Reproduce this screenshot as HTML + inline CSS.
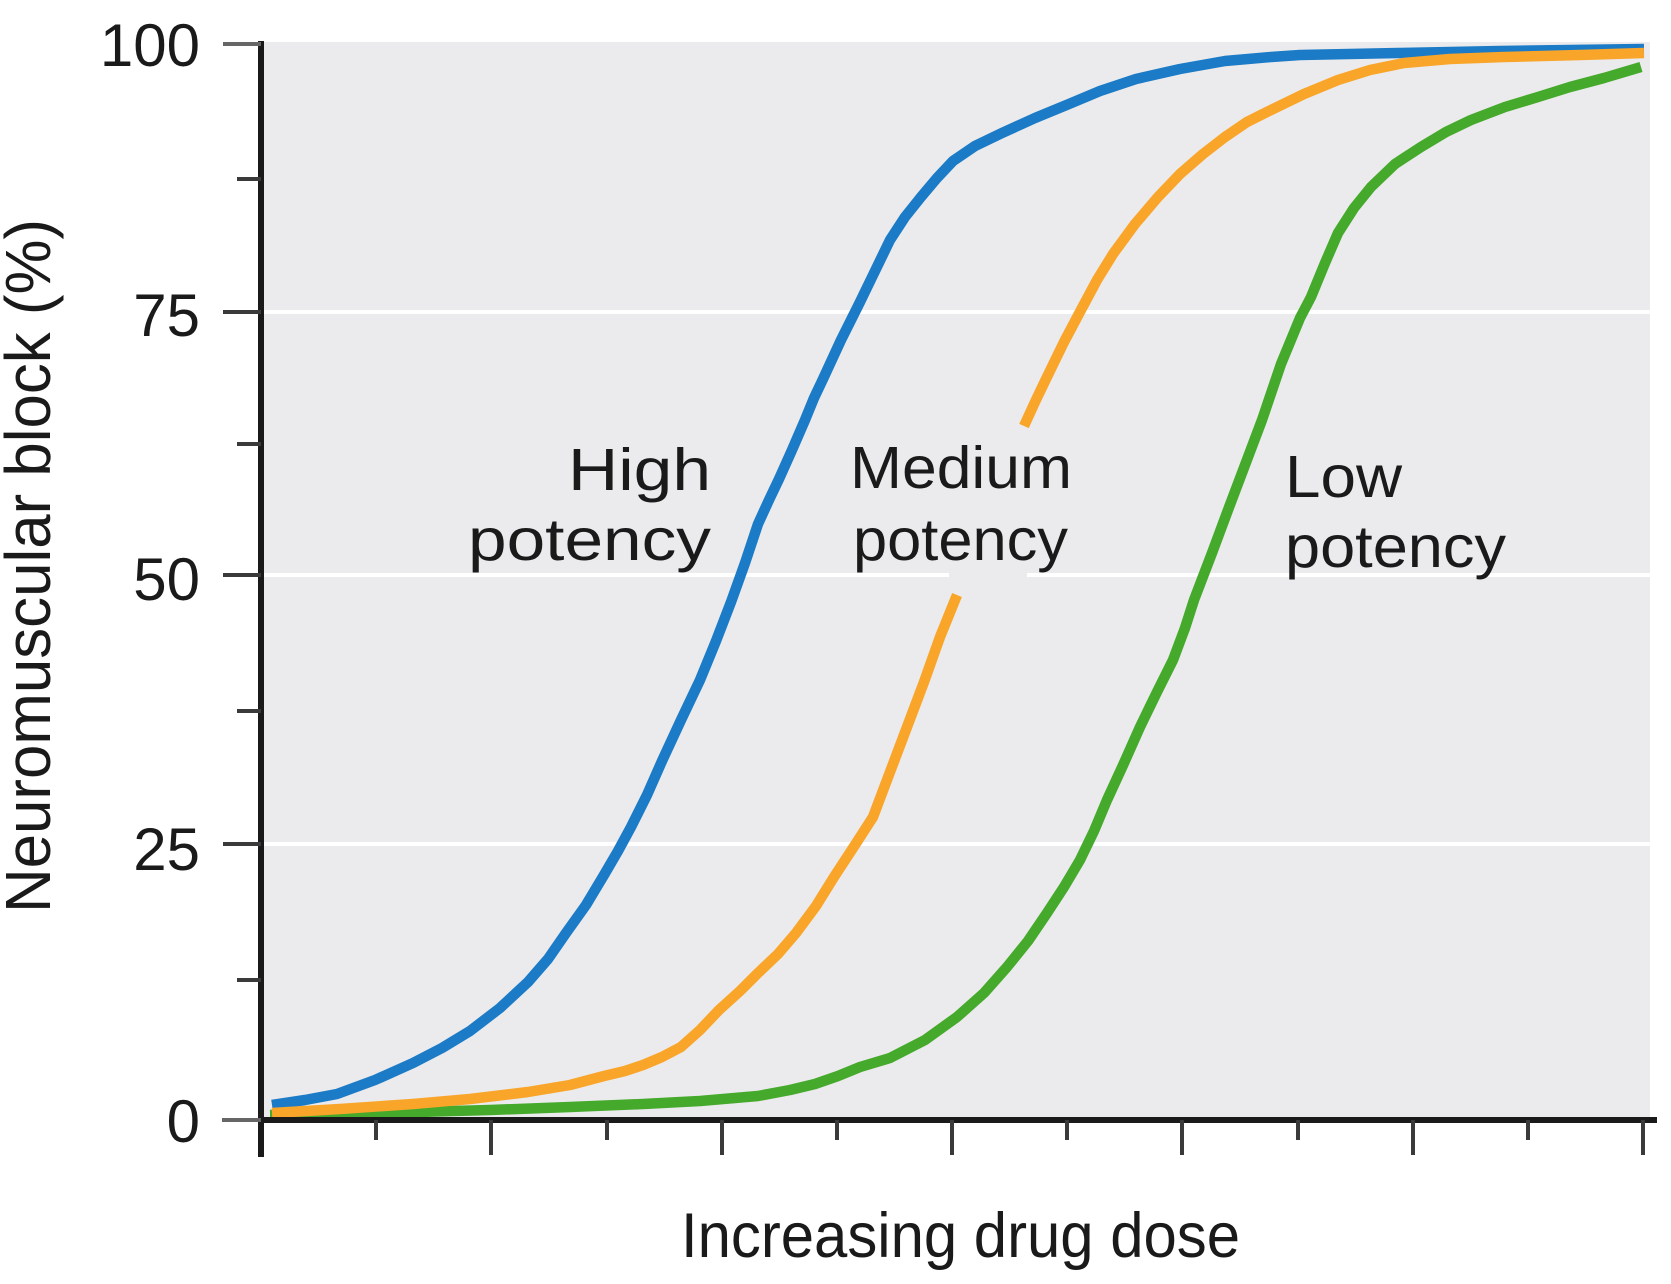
<!DOCTYPE html>
<html>
<head>
<meta charset="utf-8">
<style>
  html, body { margin: 0; padding: 0; background: #ffffff; }
  svg { display: block; }
  text { font-family: "Liberation Sans", Arial, sans-serif; fill: #1a1a1a; }
</style>
</head>
<body>
<svg width="1671" height="1284" viewBox="0 0 1671 1284" xmlns="http://www.w3.org/2000/svg">
  <rect x="0" y="0" width="1671" height="1284" fill="#ffffff"/>
  <!-- plot background -->
  <rect x="264" y="42" width="1386" height="1076" fill="#ebebed"/>
  <!-- gridlines -->
  <g stroke="#ffffff" stroke-width="4">
    <line x1="264" y1="312" x2="1650" y2="312"/>
    <line x1="264" y1="575" x2="1650" y2="575"/>
    <line x1="264" y1="844" x2="1650" y2="844"/>
  </g>
  <rect x="949" y="571" width="78" height="9" fill="#ebebed"/>

  <!-- curves -->
  <g fill="none" stroke-width="10.5" stroke-linejoin="round" stroke-linecap="butt">
    <polyline stroke="#1b7bc6" points="272,1105 305,1100 337,1094 375,1080 413,1063 442,1048 470,1031 500,1008 528,982 548,959 566,933 586,905 604,875 618,851 631,827 647,795 662,761 681,720 700,680 716,641 731,602 745,563 758,524 769,500 779,479 792,450 805,420 814,398 823,379 841,340 859,304 875,271 890,240 905,217 921,197 937,178 953,161 975,146 1002,133 1035,118 1069,104 1100,91 1136,79 1180,69 1225,61 1271,57 1300,55 1400,53 1500,51 1644,49"/>
    <polyline stroke="#45a92b" points="270,1115 380,1113 490,1110 570,1107 643,1104 700,1101 758,1096 790,1090 815,1084 838,1076 860,1067 890,1058 925,1040 957,1017 984,993 1007,967 1028,941 1047,913 1064,887 1080,860 1094,831 1107,800 1124,763 1140,727 1157,692 1173,660 1185,628 1194,600 1212,553 1228,510 1245,465 1262,420 1281,364 1300,318 1311,297 1325,263 1338,233 1354,208 1371,187 1395,164 1421,147 1446,132 1471,120 1505,107 1538,97 1570,87 1604,78 1641,67"/>
    <polyline stroke="#f9a52a" points="272,1113 340,1109 413,1104 470,1099 528,1092 570,1085 604,1076 625,1071 643,1065 662,1057 681,1047 700,1030 719,1010 740,991 758,973 778,954 796,933 816,906 834,877 853,848 873,817 890,772 907,727 924,682 940,637 957,595"/>
    <polyline stroke="#f9a52a" points="1024,426 1035,402 1046,379 1064,342 1082,308 1097,280 1113,254 1135,224 1158,197 1180,174 1203,154 1225,137 1247,122 1271,110 1304,94 1338,80 1370,70 1404,63 1450,59 1504,57 1580,55 1644,53"/>
  </g>

  <!-- axes -->
  <line x1="261" y1="41" x2="261" y2="1157" stroke="#1a1a1a" stroke-width="6"/>
  <line x1="258" y1="1120" x2="1657" y2="1120" stroke="#1a1a1a" stroke-width="6"/>

  <!-- y ticks -->
  <g stroke="#3a3a3a" stroke-width="4">
    <line x1="223" y1="44" x2="261" y2="44" stroke="#666666"/>
    <line x1="223" y1="312" x2="261" y2="312"/>
    <line x1="223" y1="575" x2="261" y2="575"/>
    <line x1="223" y1="844" x2="261" y2="844"/>
    <line x1="222" y1="1120" x2="261" y2="1120" stroke="#666666"/>
    <line x1="237" y1="179" x2="261" y2="179"/>
    <line x1="237" y1="444" x2="261" y2="444"/>
    <line x1="237" y1="711" x2="261" y2="711"/>
    <line x1="237" y1="980" x2="261" y2="980"/>
  </g>
  <!-- x ticks -->
  <g stroke="#3a3a3a" stroke-width="4">
    <line x1="491" y1="1120" x2="491" y2="1155"/>
    <line x1="722" y1="1120" x2="722" y2="1155"/>
    <line x1="952" y1="1120" x2="952" y2="1155"/>
    <line x1="1182" y1="1120" x2="1182" y2="1155"/>
    <line x1="1413" y1="1120" x2="1413" y2="1155"/>
    <line x1="1643" y1="1120" x2="1643" y2="1155"/>
    <line x1="376" y1="1120" x2="376" y2="1140"/>
    <line x1="607" y1="1120" x2="607" y2="1140"/>
    <line x1="837" y1="1120" x2="837" y2="1140"/>
    <line x1="1067" y1="1120" x2="1067" y2="1140"/>
    <line x1="1298" y1="1120" x2="1298" y2="1140"/>
    <line x1="1528" y1="1120" x2="1528" y2="1140"/>
  </g>

  <!-- y tick labels -->
  <g font-size="60" text-anchor="end">
    <text x="200" y="66">100</text>
    <text x="200" y="336">75</text>
    <text x="200" y="600">50</text>
    <text x="200" y="870">25</text>
    <text x="200" y="1142">0</text>
  </g>

  <!-- axis titles -->
  <text transform="translate(50,566) rotate(-90)" text-anchor="middle" font-size="64" textLength="694" lengthAdjust="spacingAndGlyphs">Neuromuscular block (%)</text>
  <text x="681" y="1257" font-size="63" textLength="559" lengthAdjust="spacingAndGlyphs">Increasing drug dose</text>

  <!-- curve labels -->
  <g font-size="59">
    <text x="568" y="490" textLength="143" lengthAdjust="spacingAndGlyphs">High</text>
    <text x="468" y="560" textLength="243" lengthAdjust="spacingAndGlyphs">potency</text>
    <text x="850" y="488" textLength="222" lengthAdjust="spacingAndGlyphs">Medium</text>
    <text x="853" y="560" textLength="215" lengthAdjust="spacingAndGlyphs">potency</text>
    <text x="1285" y="497" textLength="117" lengthAdjust="spacingAndGlyphs">Low</text>
    <text x="1285" y="567" textLength="221" lengthAdjust="spacingAndGlyphs">potency</text>
  </g>
</svg>
</body>
</html>
